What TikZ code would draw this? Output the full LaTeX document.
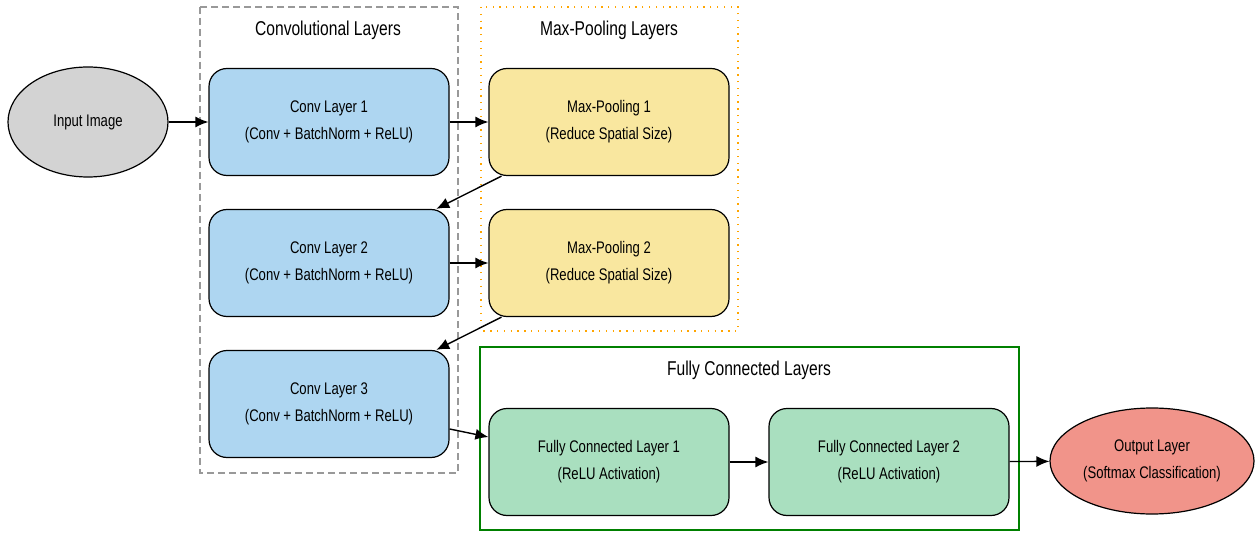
\documentclass[tikz,border=0pt]{standalone}
\usepackage{fontspec}
\setmainfont{Liberation Sans}[FakeStretch=0.78]
\usetikzlibrary{shapes.geometric,arrows.meta}
\definecolor{cblue}{HTML}{AED6F1}
\definecolor{cyellow}{HTML}{F9E79F}
\definecolor{cgreen}{HTML}{A9DFBF}
\definecolor{csalmon}{HTML}{F1948A}
\definecolor{cgray}{HTML}{D3D3D3}
\definecolor{cborder}{HTML}{999999}
\definecolor{corange}{HTML}{FFA500}
\definecolor{cdkgreen}{HTML}{008000}
\tikzset{
  layerbox/.style={draw=black, line width=1.2pt, rounded corners=18pt, minimum width=240pt, minimum height=107pt, inner sep=0pt, align=center, font=\fontsize{16.8}{27}\selectfont},
  ovalnode/.style={ellipse, draw=black, line width=1.2pt, inner sep=0pt, align=center, font=\fontsize{16.8}{27}\selectfont},
  cluster title/.style={font=\fontsize{20}{22}\selectfont},
  conn/.style={-{Latex[length=13pt,width=11pt]}, line width=1.4pt, black},
}
\begin{document}
\begin{tikzpicture}[x=1pt,y=-1pt]
\useasboundingbox (0,0) rectangle (1257,534);
% clusters
\draw[cborder, line width=1.2pt, dash pattern=on 7pt off 4pt] (200,7) rectangle (458,473);
\node[cluster title] (convtitle) at (328,30) {Convolutional Layers};
\draw[corange, line width=1.3pt, dash pattern=on 1.3pt off 5.5pt] (481,7) rectangle (738,331);
\node[cluster title] (pooltitle) at (609,30) {Max-Pooling Layers};
\draw[cdkgreen, line width=2.2pt] (480,347) rectangle (1019,530);
\node[cluster title] (fctitle) at (749,370) {Fully Connected Layers};
% nodes
\node[ovalnode, fill=cgray, minimum width=160pt, minimum height=110pt] (input) at (88,122) {Input Image};
\node[layerbox, fill=cblue] (conv1) at (329,122) {Conv Layer 1\\(Conv + BatchNorm + ReLU)};
\node[layerbox, fill=cblue] (conv2) at (329,263) {Conv Layer 2\\(Conv + BatchNorm + ReLU)};
\node[layerbox, fill=cblue] (conv3) at (329,404) {Conv Layer 3\\(Conv + BatchNorm + ReLU)};
\node[layerbox, fill=cyellow] (mp1) at (609,122) {Max-Pooling 1\\(Reduce Spatial Size)};
\node[layerbox, fill=cyellow] (mp2) at (609,263) {Max-Pooling 2\\(Reduce Spatial Size)};
\node[layerbox, fill=cgreen] (fc1) at (609,462) {Fully Connected Layer 1\\(ReLU Activation)};
\node[layerbox, fill=cgreen] (fc2) at (889,462) {Fully Connected Layer 2\\(ReLU Activation)};
\node[ovalnode, fill=csalmon, minimum width=204pt, minimum height=106pt] (output) at (1152,461) {Output Layer\\(Softmax Classification)};
% connectors
\draw[conn] (input) -- (conv1);
\draw[conn] (conv1) -- (mp1);
\draw[conn] (mp1) -- (conv2);
\draw[conn] (conv2) -- (mp2);
\draw[conn] (mp2) -- (conv3);
\draw[conn] (conv3) -- (fc1);
\draw[conn] (fc1) -- (fc2);
\draw[conn] (fc2) -- (output);
\end{tikzpicture}
\end{document}
